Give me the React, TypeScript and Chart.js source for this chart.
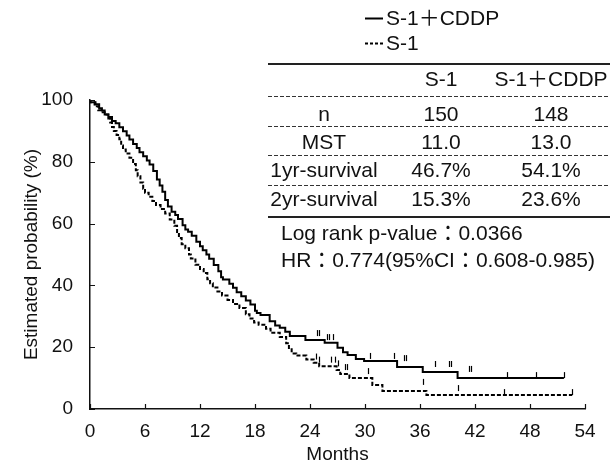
import React, { useEffect, useRef } from "react";
import { Chart, registerables } from "chart.js";
Chart.register(...registerables);

// ---- Data ----
const cddpTimes = [0, 0.6, 1.0, 1.3, 1.6, 2.0, 2.4, 2.8, 3.2, 3.6, 4.0, 4.3, 4.7, 5.1, 5.4, 5.8, 6.2, 6.5, 6.9, 7.3, 7.6, 7.9, 8.2, 8.5, 8.9, 9.3, 9.6, 10.1, 10.4, 10.7, 11.1, 11.6, 12.0, 12.3, 12.7, 13.0, 13.5, 14.0, 14.3, 14.5, 15.2, 15.6, 16.0, 16.5, 17.0, 17.5, 18.0, 18.2, 18.6, 19.6, 20.2, 20.7, 21.3, 21.8, 23.5, 25.6, 27.0, 27.6, 28.1, 29.0, 29.9, 33.5, 36.3, 40.1, 44.3, 51.7];
const cddpSurv = [100, 99.3, 98.6, 97.3, 96.6, 95.3, 94.5, 93.2, 92.5, 91.2, 89.9, 88.5, 87.2, 85.8, 84.5, 83.1, 81.8, 80.4, 79.1, 77.0, 74.3, 72.3, 70.3, 67.6, 65.5, 63.8, 62.8, 61.5, 59.5, 58.1, 57.4, 56.1, 54.1, 52.7, 51.4, 50.0, 48.6, 46.6, 44.6, 42.6, 41.9, 40.5, 39.2, 37.8, 36.5, 35.1, 33.8, 31.8, 31.1, 30.4, 28.4, 27.0, 26.3, 25.0, 23.6, 22.3, 21.4, 19.8, 18.4, 17.5, 16.2, 15.5, 13.6, 12.0, 10.0, 10.0];
const cddpCensor = [24.8, 25.0, 25.8, 26.1, 26.5, 30.5, 33.2, 34.3, 34.5, 37.6, 39.2, 39.4, 41.4, 41.6, 45.5, 48.7, 51.7];

const s1Times = [0, 0.5, 0.9, 1.2, 1.6, 2.0, 2.2, 2.4, 2.6, 2.9, 3.2, 3.4, 3.6, 3.9, 4.3, 4.7, 5.0, 5.2, 5.5, 5.8, 6.0, 6.4, 6.8, 7.2, 7.7, 8.2, 8.7, 9.2, 9.5, 9.7, 10.0, 10.4, 10.8, 11.0, 11.5, 12.0, 12.4, 12.8, 13.1, 13.4, 13.9, 14.4, 15.0, 15.6, 16.3, 17.0, 17.4, 17.9, 18.4, 19.2, 19.7, 20.7, 21.4, 21.7, 22.0, 22.5, 23.6, 24.4, 25.0, 26.9, 27.3, 28.3, 30.8, 31.9, 36.7, 41.7, 52.6];
const s1Surv = [100, 99.3, 98.0, 96.7, 96.0, 95.3, 94.0, 92.7, 91.3, 90.0, 88.7, 87.3, 85.3, 84.0, 82.7, 81.3, 79.3, 77.3, 75.3, 73.3, 71.3, 70.0, 68.7, 67.3, 66.0, 64.7, 63.3, 61.3, 59.3, 57.3, 55.3, 53.3, 52.0, 50.0, 48.7, 46.7, 45.3, 44.0, 42.0, 40.7, 39.3, 38.0, 36.7, 35.3, 34.0, 32.7, 30.7, 29.3, 28.0, 27.3, 26.0, 24.7, 23.3, 21.3, 19.3, 18.0, 17.3, 16.0, 15.0, 13.8, 12.6, 11.3, 10.0, 7.8, 5.8, 4.5, 4.5];
const s1Censor = [24.7, 25.0, 26.3, 26.7, 27.0, 27.8, 28.0, 30.3, 36.3, 40.1, 45.2, 52.6];

const xTicks = [0, 6, 12, 18, 24, 30, 36, 42, 48, 54];
const yTicks = [0, 20, 40, 60, 80, 100];
const xTitle = "Months";
const yTitle = "Estimated probability (%)";
const legendLabels = ["S-1＋CDDP", "S-1"];
const tableHeader = ["", "S-1", "S-1＋CDDP"];
const tableRows = [
  ["n", "150", "148"],
  ["MST", "11.0", "13.0"],
  ["1yr-survival", "46.7%", "54.1%"],
  ["2yr-survival", "15.3%", "23.6%"],
];
const statsLines = ["Log rank p-value：0.0366", "HR：0.774(95%CI：0.608-0.985)"];

const FONT = "'Liberation Sans', Arial, 'Noto Sans CJK JP', sans-serif";

function survAt(times: number[], surv: number[], t: number) {
  let s = surv[0];
  for (let i = 0; i < times.length; i++) if (times[i] <= t) s = surv[i];
  return s;
}

const inwardTicks = {
  id: "inwardTicks",
  afterDraw(chart: any) {
    const { ctx, chartArea, scales } = chart;
    const xs = scales.x, ys = scales.y;
    ctx.save();
    ctx.strokeStyle = "#111";
    ctx.lineWidth = 1.2;
    ctx.beginPath();
    for (const v of xTicks) {
      const px = Math.round(xs.getPixelForValue(v)) + 0.5;
      ctx.moveTo(px, chartArea.bottom);
      ctx.lineTo(px, chartArea.bottom - 5);
    }
    for (const v of yTicks) {
      const py = Math.round(ys.getPixelForValue(v)) + 0.5;
      ctx.moveTo(chartArea.left, py);
      ctx.lineTo(chartArea.left + 5, py);
    }
    ctx.stroke();
    ctx.restore();
  },
};

const censorPlugin = {
  id: "censorMarks",
  afterDatasetsDraw(chart: any) {
    const { ctx, scales } = chart;
    const groups = [
      { times: cddpTimes, surv: cddpSurv, censor: cddpCensor },
      { times: s1Times, surv: s1Surv, censor: s1Censor },
    ];
    ctx.save();
    ctx.strokeStyle = "#000";
    ctx.lineWidth = 1.2;
    for (const g of groups) {
      for (const c of g.censor) {
        const px = Math.round(scales.x.getPixelForValue(c)) + 0.5;
        const py = scales.y.getPixelForValue(survAt(g.times, g.surv, c));
        ctx.beginPath();
        ctx.moveTo(px, py);
        ctx.lineTo(px, py - 6);
        ctx.stroke();
      }
    }
    ctx.restore();
  },
};

function Txt(props: { x: number; baseline: number; size?: number; align?: "left" | "center"; children: any }) {
  const size = props.size ?? 21;
  const top = props.baseline - 0.8465 * size;
  const style: any = {
    position: "absolute",
    top,
    fontSize: size,
    lineHeight: `${size}px`,
    fontFamily: FONT,
    color: "#111",
    whiteSpace: "nowrap",
  };
  if (props.align === "center") {
    style.left = props.x - 100;
    style.width = 200;
    style.textAlign = "center";
  } else {
    style.left = props.x;
  }
  return <div style={style}>{props.children}</div>;
}

function Rule(props: { y: number; dashed?: boolean; thick?: number }) {
  const h = props.thick ?? 1;
  return (
    <div
      style={{
        position: "absolute",
        left: 268,
        width: 342,
        top: props.y - h / 2,
        height: h,
        background: props.dashed
          ? "repeating-linear-gradient(to right, #333 0 4px, transparent 4px 6px)"
          : "#222",
      }}
    />
  );
}

export default function App() {
  const ref = useRef<HTMLCanvasElement | null>(null);

  useEffect(() => {
    if (!ref.current) return;
    const chart = new Chart(ref.current, {
      type: "line",
      data: {
        datasets: [
          {
            label: legendLabels[0],
            data: cddpTimes.map((t, i) => ({ x: t, y: cddpSurv[i] })),
            stepped: "after",
            borderColor: "#000",
            borderWidth: 2,
            pointRadius: 0,
            fill: false,
          },
          {
            label: legendLabels[1],
            data: s1Times.map((t, i) => ({ x: t, y: s1Surv[i] })),
            stepped: "after",
            borderColor: "#000",
            borderWidth: 2,
            borderDash: [4, 2],
            pointRadius: 0,
            fill: false,
          },
        ],
      },
      options: {
        animation: false,
        responsive: false,
        maintainAspectRatio: false,
        layout: { padding: { left: 0, right: 25, top: 100, bottom: 0 } },
        plugins: { legend: { display: false }, tooltip: { enabled: false } },
        scales: {
          x: {
            type: "linear",
            min: 0,
            max: 54,
            afterBuildTicks: (s: any) => {
              s.ticks = xTicks.map((v) => ({ value: v }));
            },
            afterFit: (s: any) => {
              s.height = 62;
            },
            grid: { display: false },
            border: { display: true, color: "#111", width: 1.5 },
            ticks: { padding: 3, color: "#111", font: { family: FONT, size: 19 }, maxRotation: 0 },
            title: { display: true, text: xTitle, color: "#111", font: { family: FONT, size: 19 }, padding: { top: 0, bottom: 5 } },
          },
          y: {
            type: "linear",
            min: 0,
            max: 100,
            afterBuildTicks: (s: any) => {
              s.ticks = yTicks.map((v) => ({ value: v }));
            },
            afterFit: (s: any) => {
              s.width = 90;
            },
            grid: { display: false },
            border: { display: true, color: "#111", width: 1.5 },
            ticks: { padding: 9, color: "#111", font: { family: FONT, size: 19 } },
            title: { display: true, text: yTitle, color: "#111", font: { family: FONT, size: 19 }, padding: { top: 20, bottom: 0 } },
          },
        },
      },
      plugins: [inwardTicks, censorPlugin],
    });
    return () => chart.destroy();
  }, []);

  const labelX = 324, col1X = 441, col2X = 551;
  const rowBase = [120.5, 148.8, 177.2, 206];

  return (
    <div style={{ position: "fixed", left: 0, top: 0, width: 610, height: 471, background: "#fff" }}>
      <canvas ref={ref} width={610} height={471} style={{ position: "absolute", left: 0, top: 0 }} />
      {/* legend */}
      <svg width={20} height={50} style={{ position: "absolute", left: 364, top: 10 }}>
        <line x1={1} y1={8.5} x2={19} y2={8.5} stroke="#000" strokeWidth={2} />
        <line x1={1} y1={33.5} x2={19} y2={33.5} stroke="#000" strokeWidth={2} strokeDasharray="3 2" />
      </svg>
      <Txt x={386} baseline={25}>{legendLabels[0]}</Txt>
      <Txt x={386} baseline={50}>{legendLabels[1]}</Txt>
      {/* table */}
      <Rule y={64} thick={1.5} />
      <Txt x={col1X} baseline={85.5} align="center">{tableHeader[1]}</Txt>
      <Txt x={col2X} baseline={85.5} align="center">{tableHeader[2]}</Txt>
      <Rule y={96} dashed />
      <Rule y={126} dashed />
      <Rule y={155} dashed />
      <Rule y={185} dashed />
      <Rule y={217} thick={1.5} />
      {tableRows.map((r, i) => (
        <React.Fragment key={i}>
          <Txt x={labelX} baseline={rowBase[i]} align="center">{r[0]}</Txt>
          <Txt x={col1X} baseline={rowBase[i]} align="center">{r[1]}</Txt>
          <Txt x={col2X} baseline={rowBase[i]} align="center">{r[2]}</Txt>
        </React.Fragment>
      ))}
      <Txt x={281} baseline={240}>{statsLines[0]}</Txt>
      <Txt x={281} baseline={266.7}>{statsLines[1]}</Txt>
    </div>
  );
}
